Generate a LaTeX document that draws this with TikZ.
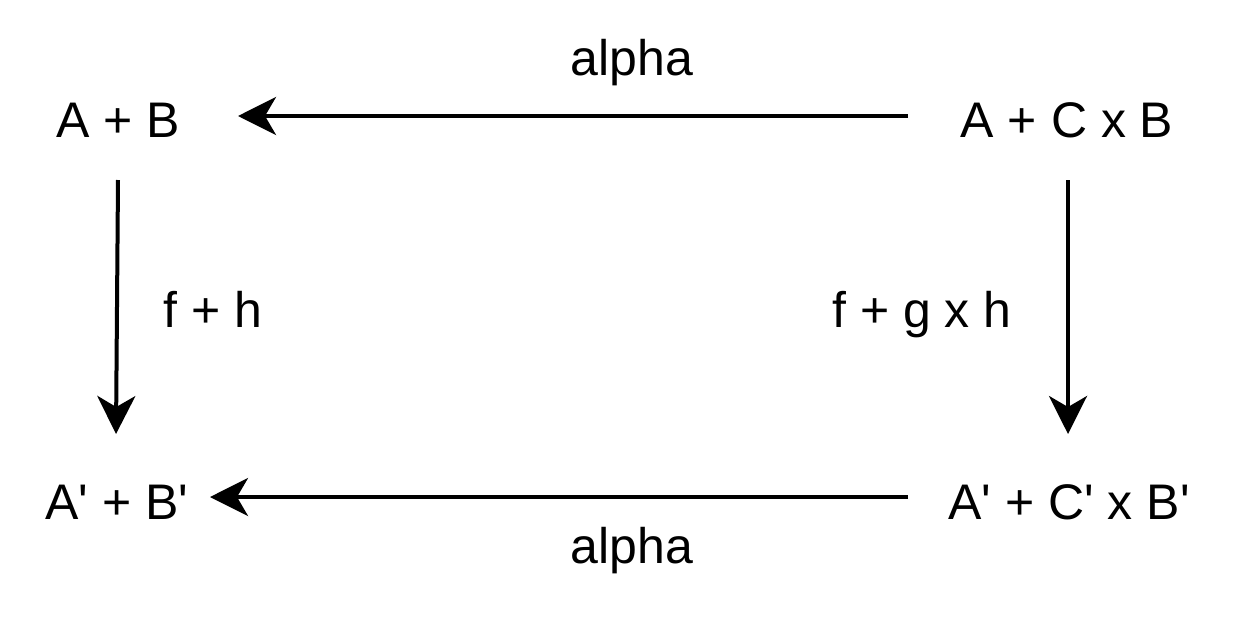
\documentclass[tikz,border=0pt]{standalone}
\usepackage{fontspec}
\setmainfont{Liberation Sans}
\usetikzlibrary{arrows.meta}
\newcommand{\pr}{\textquotesingle}
\begin{document}
\begin{tikzpicture}[x=1pt,y=-1pt,
  lbl/.style={font=\fontsize{50}{58}\selectfont, inner sep=0pt, anchor=base},
  arr/.style={line width=4pt, -{Stealth[length=38pt,width=38pt,inset=11pt]}}]
\useasboundingbox (0,0) rectangle (1252,619);
\node[lbl] (ab) at (118,137) {A + B};
\node[lbl] (acb) at (1067,137) {A + C x B};
\node[lbl] (ab2) at (117,519) {A\pr{} + B\pr};
\node[lbl] (acb2) at (1069,519) {A\pr{} + C\pr{} x B\pr};
\node[lbl] (al1) at (632,75) {alpha};
\node[lbl] (al2) at (632,563) {alpha};
\node[lbl] (fh) at (213,327) {f + h};
\node[lbl] (fgh) at (922,327) {f + g x h};
\coordinate (t1s) at (908,116); \coordinate (t1e) at (238,116);
\coordinate (t2s) at (908,497); \coordinate (t2e) at (210,497);
\coordinate (v1s) at (118,180); \coordinate (v1e) at (116,434);
\coordinate (v2s) at (1068,180); \coordinate (v2e) at (1068,434);
\draw[arr] (t1s) -- (t1e);
\draw[arr] (t2s) -- (t2e);
\draw[arr] (v1s) -- (v1e);
\draw[arr] (v2s) -- (v2e);
\end{tikzpicture}
\end{document}
